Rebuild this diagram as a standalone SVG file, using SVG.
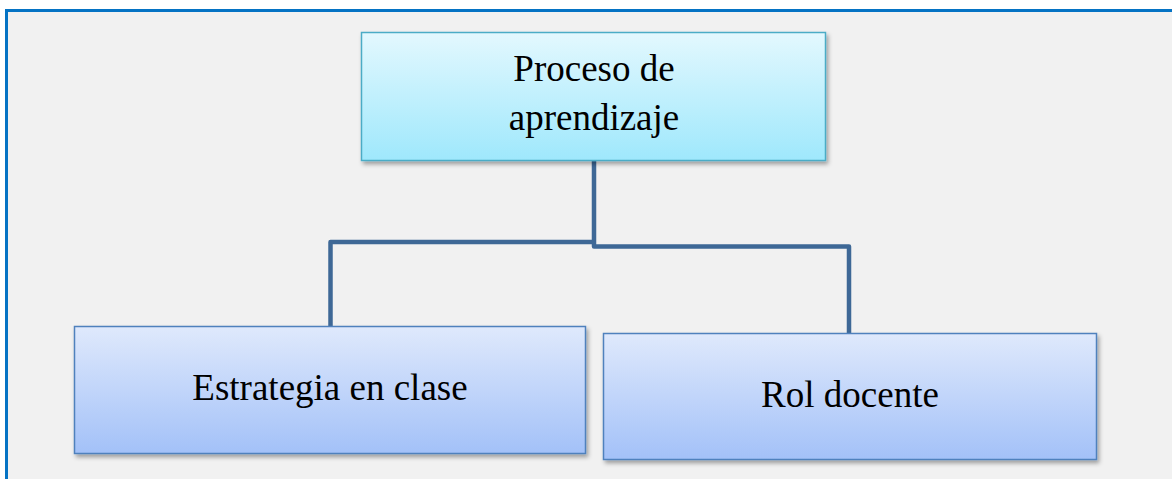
<svg xmlns="http://www.w3.org/2000/svg" width="1172" height="479" viewBox="0 0 1172 479">
  <style>
    .label { font-family: "Liberation Serif", "Times New Roman", serif; font-size: 37px; fill: #000; text-anchor: middle; }
    .top { stroke: #4BACC6; stroke-width: 1.5; fill: url(#gTop); filter: url(#shadow); }
    .child { stroke: #4F81BD; stroke-width: 1.5; fill: url(#gChild); filter: url(#shadow); }
    .conn { fill: none; stroke: #3E6896; stroke-width: 4.5; stroke-linejoin: round; stroke-linecap: butt; }
  </style>
  <defs>
    <linearGradient id="gTop" x1="0" y1="0" x2="0" y2="1">
      <stop offset="0" stop-color="#E3F8FE"/>
      <stop offset="1" stop-color="#9FE8FC"/>
    </linearGradient>
    <linearGradient id="gChild" x1="0" y1="0" x2="0" y2="1">
      <stop offset="0" stop-color="#DFE9FC"/>
      <stop offset="1" stop-color="#A3C1F8"/>
    </linearGradient>
    <filter id="shadow" x="-5%" y="-10%" width="115%" height="130%">
      <feDropShadow dx="2" dy="3" stdDeviation="2" flood-color="#000" flood-opacity="0.35"/>
    </filter>
  </defs>
  <rect x="0" y="0" width="1172" height="479" fill="#FFFFFF"/>
  <rect id="frame" x="6.5" y="10.5" width="1200" height="500" fill="#F1F1F1" stroke="#0573C4" stroke-width="3"/>

  <g id="connectors">
    <path class="conn" d="M594,161 V246.5 H849 V333"/>
    <path class="conn" d="M594,242 H330.5 V326"/>
  </g>

  <g id="node-proceso">
    <rect class="top" x="361.5" y="32.5" width="464" height="128"/>
    <text class="label" x="594" y="81">Proceso de</text>
    <text class="label" x="594" y="130">aprendizaje</text>
  </g>

  <g id="node-estrategia">
    <rect class="child" x="74.5" y="326.5" width="511" height="127"/>
    <text class="label" x="330" y="400">Estrategia en clase</text>
  </g>

  <g id="node-rol">
    <rect class="child" x="603.5" y="333.5" width="493" height="126"/>
    <text class="label" x="850" y="407">Rol docente</text>
  </g>
</svg>
